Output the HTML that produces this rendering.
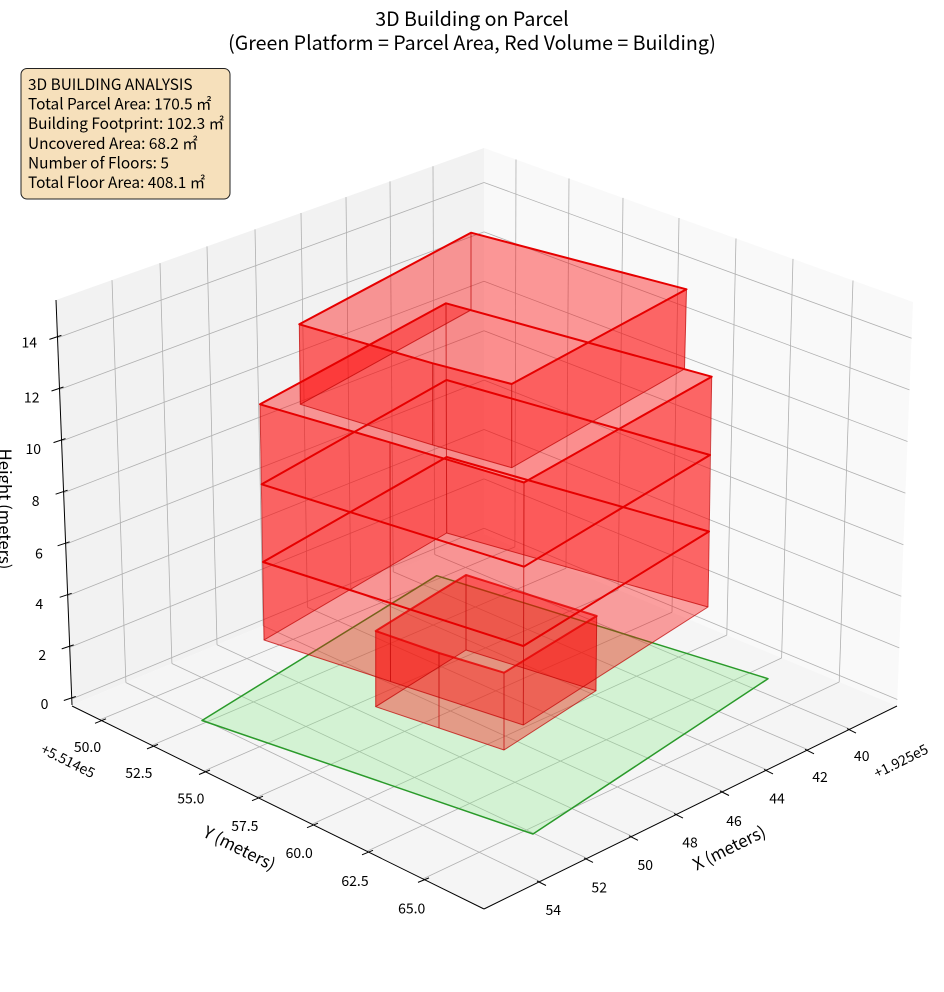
<!DOCTYPE html>
<html>
<head>
<meta charset="utf-8">
<style>
  html, body { margin: 0; padding: 0; background: #ffffff; }
  svg { display: block; }
  text { font-family: "Noto Sans CJK JP", "Liberation Sans", sans-serif; fill: #000; }
</style>
</head>
<body>
<svg width="944" height="992" viewBox="0 0 944 992" xmlns="http://www.w3.org/2000/svg">
  <rect x="0" y="0" width="944" height="992" fill="#ffffff"/>

  <!-- Panes -->
  <polygon points="72,705 56,300 484,148 484,534" fill="#f2f2f2"/>
  <polygon points="484,534 484,148 913,302 897,706" fill="#f9f9f9"/>
  <polygon points="72,705 484,534 897,706 484,909" fill="#f5f5f5"/>

  <!-- Gridlines -->
  <g stroke="#b0b0b0" stroke-width="0.8" fill="none">
    <line x1="112" y1="280.1" x2="125.9" y2="682.6"/>
    <line x1="160" y1="263.1" x2="171.9" y2="663.5"/>
    <line x1="207" y1="246.4" x2="217" y2="644.8"/>
    <line x1="255" y1="229.4" x2="263.1" y2="625.7"/>
    <line x1="301" y1="213.0" x2="307.4" y2="607.3"/>
    <line x1="346" y1="197.1" x2="350.8" y2="589.3"/>
    <line x1="390" y1="181.4" x2="393.2" y2="571.7"/>
    <line x1="433" y1="166.2" x2="434.7" y2="554.5"/>
    <line x1="71.8" y1="699" x2="484" y2="528.3"/>
    <line x1="69.7" y1="647.4" x2="484" y2="478.9"/>
    <line x1="67.7" y1="595.8" x2="484" y2="429.5"/>
    <line x1="65.6" y1="544.3" x2="484" y2="380.1"/>
    <line x1="63.6" y1="492.7" x2="484" y2="330.7"/>
    <line x1="61.5" y1="441.1" x2="484" y2="281.3"/>
    <line x1="59.5" y1="389.5" x2="484" y2="231.9"/>
    <line x1="57.4" y1="337.9" x2="484" y2="182.5"/>
    <line x1="516" y1="159.5" x2="514.9" y2="546.9"/>
    <line x1="569" y1="178.5" x2="566" y2="568.2"/>
    <line x1="623" y1="197.9" x2="618.1" y2="589.9"/>
    <line x1="679" y1="218.0" x2="672" y2="612.3"/>
    <line x1="736" y1="238.5" x2="726.8" y2="635.1"/>
    <line x1="793" y1="258.9" x2="781.6" y2="658.0"/>
    <line x1="853" y1="280.5" x2="839.2" y2="682.0"/>
    <line x1="484" y1="528.3" x2="897.3" y2="699.5"/>
    <line x1="484" y1="478.9" x2="899.3" y2="647.9"/>
    <line x1="484" y1="429.5" x2="901.3" y2="596.3"/>
    <line x1="484" y1="380.1" x2="903.4" y2="544.7"/>
    <line x1="484" y1="330.7" x2="905.4" y2="493.1"/>
    <line x1="484" y1="281.3" x2="907.5" y2="441.5"/>
    <line x1="484" y1="231.9" x2="909.5" y2="389.9"/>
    <line x1="484" y1="182.5" x2="911.6" y2="338.3"/>
    <line x1="125.9" y1="682.6" x2="540" y2="881.5"/>
    <line x1="171.9" y1="663.5" x2="587" y2="858.4"/>
    <line x1="217" y1="644.8" x2="632" y2="836.3"/>
    <line x1="263.1" y1="625.7" x2="677" y2="814.1"/>
    <line x1="307.4" y1="607.3" x2="723" y2="791.5"/>
    <line x1="350.8" y1="589.3" x2="767" y2="769.9"/>
    <line x1="393.2" y1="571.7" x2="808" y2="749.8"/>
    <line x1="434.7" y1="554.5" x2="850" y2="729.1"/>
    <line x1="514.9" y1="546.9" x2="100" y2="719.8"/>
    <line x1="566" y1="568.2" x2="152" y2="745.4"/>
    <line x1="618.1" y1="589.9" x2="204" y2="771"/>
    <line x1="672" y1="612.3" x2="257" y2="797.2"/>
    <line x1="726.8" y1="635.1" x2="312" y2="824.2"/>
    <line x1="781.6" y1="658" x2="367" y2="851.3"/>
    <line x1="839.2" y1="682" x2="423" y2="878.9"/>
  </g>

  <!-- Axis lines -->
  <g stroke="#000" stroke-width="1" fill="none">
    <line x1="72" y1="705" x2="56" y2="300"/>
    <line x1="72" y1="706" x2="484" y2="909"/>
    <line x1="484" y1="909" x2="897" y2="706"/>
  </g>

  <!-- Z ticks -->
  <g stroke="#000" stroke-width="1">
    <line x1="63.8" y1="700.5" x2="75.8" y2="696.5"/>
    <line x1="61.7" y1="648.9" x2="73.7" y2="644.9"/>
    <line x1="59.7" y1="597.3" x2="71.7" y2="593.3"/>
    <line x1="57.6" y1="545.8" x2="69.6" y2="541.8"/>
    <line x1="55.6" y1="494.2" x2="67.6" y2="490.2"/>
    <line x1="53.5" y1="442.6" x2="65.5" y2="438.6"/>
    <line x1="51.5" y1="391" x2="63.5" y2="387"/>
    <line x1="49.4" y1="339.4" x2="61.4" y2="335.4"/>
  </g>
  <!-- Y ticks -->
  <g stroke="#000" stroke-width="1">
    <line x1="95" y1="723.3" x2="106" y2="718.8"/>
    <line x1="147" y1="748.9" x2="158" y2="744.4"/>
    <line x1="199" y1="774.5" x2="210" y2="770"/>
    <line x1="252" y1="800.7" x2="263" y2="796.2"/>
    <line x1="307" y1="827.7" x2="318" y2="823.2"/>
    <line x1="362" y1="854.8" x2="373" y2="850.3"/>
    <line x1="418" y1="882.4" x2="429" y2="877.9"/>
  </g>
  <!-- X ticks -->
  <g stroke="#000" stroke-width="1">
    <line x1="537" y1="881" x2="546" y2="885.5"/>
    <line x1="584" y1="857.9" x2="593" y2="862.4"/>
    <line x1="629" y1="835.8" x2="638" y2="840.3"/>
    <line x1="674" y1="813.6" x2="683" y2="818.1"/>
    <line x1="720" y1="791" x2="729" y2="795.5"/>
    <line x1="764" y1="769.4" x2="773" y2="773.9"/>
    <line x1="805" y1="749.3" x2="814" y2="753.8"/>
    <line x1="847" y1="728.6" x2="856" y2="733.1"/>
  </g>

  <!-- Tick labels -->
  <g font-size="14" text-anchor="middle">
    <text x="29.3" y="347.5">14</text>
    <text x="31.7" y="402.5">12</text>
    <text x="33.3" y="454">10</text>
    <text x="35.7" y="506">8</text>
    <text x="39" y="558.3">6</text>
    <text x="39.3" y="609">4</text>
    <text x="42.3" y="660">2</text>
    <text x="44.5" y="709">0</text>

    <text x="87.5" y="751.8">50.0</text>
    <text x="138.8" y="778.2">52.5</text>
    <text x="190.8" y="803.5">55.0</text>
    <text x="244.8" y="830.8">57.5</text>
    <text x="299.2" y="858.2">60.0</text>
    <text x="355" y="885.8">62.5</text>
    <text x="411.7" y="913.5">65.0</text>

    <text x="861.7" y="760.8">40</text>
    <text x="820" y="781.8">42</text>
    <text x="777" y="803.5">44</text>
    <text x="734" y="825.8">46</text>
    <text x="690" y="847.5">48</text>
    <text x="645.3" y="869.8">50</text>
    <text x="599.2" y="892.5">52</text>
    <text x="553.3" y="915.2">54</text>
  </g>
  <text font-size="14" text-anchor="middle" dominant-baseline="central" transform="translate(68,761) rotate(26.5)">+5.514e5</text>
  <text font-size="14" text-anchor="middle" dominant-baseline="central" transform="translate(901,761) rotate(-26.5)">+1.925e5</text>

  <!-- Axis labels -->
  <text font-size="16.7" text-anchor="middle" dominant-baseline="central" transform="translate(240,847.3) rotate(26.5)">Y (meters)</text>
  <text font-size="16.7" text-anchor="middle" dominant-baseline="central" transform="translate(728.7,847) rotate(-26.5)">X (meters)</text>
  <text font-size="16.7" text-anchor="middle" dominant-baseline="central" transform="translate(6,509) rotate(90)">Height (meters)</text>

  <!-- Green parcel -->
  <polygon points="202,720.5 436.7,575.7 768,678.7 533,834" fill="rgba(144,238,144,0.33)" stroke="#2a9a2a" stroke-width="1.5" stroke-linejoin="round"/>

  <!-- Building faces -->
  <g fill="rgba(255,0,0,0.36)" stroke="none">
    <polygon points="375.7,631 439,653 439,728 375.7,706.7"/>
    <polygon points="439,653 504,672.7 504,750 439,728"/>
    <polygon points="504,672.7 596.7,616 596,690.7 504,750"/>
    <polygon points="596.7,616 466,575 466,650 596,690.7"/>
    <polygon points="466,575 375.7,631 375.7,706.7 466,650"/>
    <polygon points="263,562 390.5,603.1 390.5,681.5 264,640"/>
    <polygon points="390.5,603.1 523.3,646 523.3,725 390.5,681.5"/>
    <polygon points="523.3,646 709,531.5 708,607 523.3,725"/>
    <polygon points="709,531.5 446.7,457 446.7,533 708,607"/>
    <polygon points="446.7,457 263,562 264,640 446.7,533"/>
    <polygon points="261.7,484.3 390.5,524.8 390.5,603.1 263,562"/>
    <polygon points="390.5,524.8 524,566.7 523.3,646 390.5,603.1"/>
    <polygon points="524,566.7 710,455 709,531.5 523.3,646"/>
    <polygon points="710,455 446.5,380 446.7,457 709,531.5"/>
    <polygon points="446.5,380 261.7,484.3 263,562 446.7,457"/>
    <polygon points="260,404.3 390,442.4 390.5,524.8 261.7,484.3"/>
    <polygon points="390,442.4 524,482.5 524,566.7 390.5,524.8"/>
    <polygon points="524,482.5 711.7,376.7 710,455 524,566.7"/>
    <polygon points="711.7,376.7 446,303.3 446.5,380 710,455"/>
    <polygon points="446,303.3 260,404.3 261.7,484.3 446.5,380"/>
    <polygon points="299.3,324.3 432.7,363.3 432.7,445 300.3,404.3"/>
    <polygon points="432.7,363.3 511.7,384 511.7,467.7 432.7,445"/>
    <polygon points="511.7,384 686.5,289.3 684.5,369 511.7,467.7"/>
    <polygon points="686.5,289.3 471,232.7 471,310 684.5,369"/>
    <polygon points="471,232.7 299.3,324.3 300.3,404.3 471,310"/>
  </g>
  <g fill="rgba(255,0,0,0.05)" stroke="none">
    <polygon points="375.7,631 439,653 504,672.7 596.7,616 466,575"/>
    <polygon points="263,562 390.5,603.1 523.3,646 709,531.5 446.7,457"/>
    <polygon points="261.7,484.3 390.5,524.8 524,566.7 710,455 446.5,380"/>
    <polygon points="260,404.3 390,442.4 524,482.5 711.7,376.7 446,303.3"/>
    <polygon points="299.3,324.3 432.7,363.3 511.7,384 686.5,289.3 471,232.7"/>
  </g>

  <!-- Thin wall edges -->
  <g stroke="rgba(190,0,0,0.7)" stroke-width="1" fill="none" stroke-linejoin="round">
    <line x1="375.7" y1="631" x2="375.7" y2="706.7"/>
    <line x1="439" y1="653" x2="439" y2="728"/>
    <line x1="504" y1="672.7" x2="504" y2="750"/>
    <line x1="596.7" y1="616" x2="596" y2="690.7"/>
    <line x1="466" y1="575" x2="466" y2="650"/>
    <polygon points="375.7,706.7 439,728 504,750 596,690.7 466,650"/>
    <line x1="260" y1="404.3" x2="264" y2="640"/>
    <line x1="390" y1="442.4" x2="390.5" y2="681.5"/>
    <line x1="524" y1="482.5" x2="523.3" y2="725"/>
    <line x1="711.7" y1="376.7" x2="708" y2="607"/>
    <line x1="446" y1="303.3" x2="446.7" y2="533"/>
    <polygon points="264,640 390.5,681.5 523.3,725 708,607 446.7,533"/>
    <line x1="299.3" y1="324.3" x2="300.3" y2="404.3"/>
    <line x1="432.7" y1="363.3" x2="432.7" y2="445"/>
    <line x1="511.7" y1="384" x2="511.7" y2="467.7"/>
    <line x1="686.5" y1="289.3" x2="684.5" y2="369"/>
    <line x1="471" y1="232.7" x2="471" y2="310"/>
    <polygon points="300.3,404.3 432.7,445 511.7,467.7 684.5,369 471,310"/>
  </g>

  <!-- Thick floor-top outlines -->
  <g stroke="#e60000" stroke-width="2" fill="none" stroke-linejoin="round">
    <polygon points="375.7,631 439,653 504,672.7 596.7,616 466,575" stroke-opacity="0.8"/>
    <polygon points="263,562 390.5,603.1 523.3,646 709,531.5 446.7,457"/>
    <polygon points="261.7,484.3 390.5,524.8 524,566.7 710,455 446.5,380"/>
    <polygon points="260,404.3 390,442.4 524,482.5 711.7,376.7 446,303.3"/>
    <polygon points="299.3,324.3 432.7,363.3 511.7,384 686.5,289.3 471,232.7"/>
  </g>

  <!-- Title -->
  <text x="472" y="26" font-size="19.6" text-anchor="middle">3D Building on Parcel</text>
  <text x="472" y="50" font-size="19.6" text-anchor="middle">(Green Platform = Parcel Area, Red Volume = Building)</text>

  <!-- Info box -->
  <rect x="21" y="68.5" width="209" height="130.5" rx="6" ry="6" fill="#f6e0bb" stroke="#222" stroke-width="1"/>
  <g font-size="15.4">
    <text x="28" y="90">3D BUILDING ANALYSIS</text>
    <text x="28" y="109.6">Total Parcel Area: 170.5 ㎡</text>
    <text x="28" y="129.2">Building Footprint: 102.3 ㎡</text>
    <text x="28" y="148.8">Uncovered Area: 68.2 ㎡</text>
    <text x="28" y="168.4">Number of Floors: 5</text>
    <text x="28" y="188">Total Floor Area: 408.1 ㎡</text>
  </g>
</svg>
</body>
</html>
